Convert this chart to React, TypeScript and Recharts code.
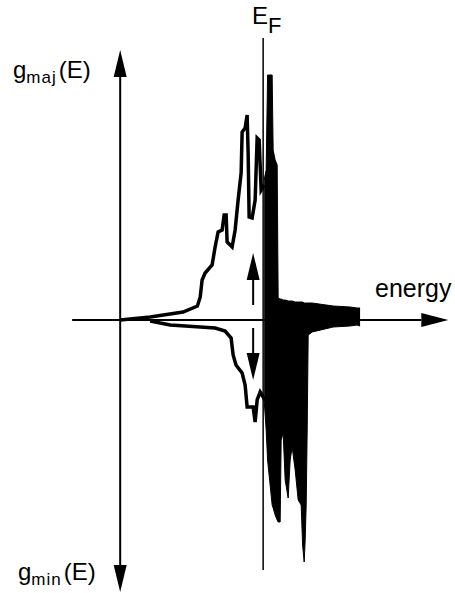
import React from 'react';
import { ComposedChart, Line, Area, XAxis, YAxis, ReferenceLine, Customized } from 'recharts';

// majority-spin density of states (upper curve), energy relative to E_F
const majE = [-10, -7.9, -5.6, -4.6, -4.4, -4.27, -4.06, -3.57, -3.36, -3.15, -2.87, -2.73, -2.59, -2.52, -2.17, -1.96, -1.75, -1.54, -1.47, -1.26, -1.12, -1.05, -0.98, -0.77, -0.56, -0.42, -0.28, -0.14, 0.07];
const majG = [0, 0.3, 0.8, 1.4, 2.3, 4.0, 4.7, 5.5, 7.3, 8.8, 9.0, 10.5, 10.5, 7.8, 7.3, 9.0, 12, 14.7, 18.8, 19.2, 20.5, 16.7, 10.3, 10.2, 12, 18.2, 18, 13, 13.5];

// minority-spin density of states (lower curve, drawn negative)
const minE = [-7.9, -6.5, -4.4, -3.36, -2.66, -2.24, -2.1, -1.9, -1.47, -1.26, -1.12, -0.7, -0.56, -0.42, -0.21, 0, 0.14];
const minG = [-0.1, -0.5, -0.7, -0.8, -1.1, -1.8, -3.5, -4.5, -5.3, -6.5, -8.7, -8.7, -10.2, -8, -7.2, -7.7, -8];

// filled region above E_F
const fillE = [0.07, 0.21, 0.31, 0.63, 0.70, 0.84, 0.98, 1.05, 1.19, 1.26, 1.40, 1.54, 1.75, 1.89, 2.03, 2.24, 2.45, 2.66, 2.76, 2.87, 2.94, 3.01, 3.08, 3.15, 3.43, 4.90, 6.08, 6.57, 6.78];
const fillHi = [14, 15, 24.5, 24.5, 17, 16, 15.5, 2.2, 2.1, 2.1, 2.0, 2.0, 1.9, 1.9, 1.9, 1.8, 1.8, 1.8, 1.8, 1.7, 1.7, 1.7, 1.7, 1.7, 1.7, 1.4, 1.3, 1.2, 1.2];
const fillLo = [-8, -11, -14, -18.5, -18.8, -19.5, -20, -20.2, -20.2, -12, -11.3, -16, -17.8, -14, -12.7, -15, -18, -18.5, -22.5, -24.2, -22, -18.5, -11, -1.5, -1.2, -0.7, -0.6, -0.5, -0.6];

const majData = majE.map((e, i) => ({ e, g: majG[i] }));
const minData = minE.map((e, i) => ({ e, g: minG[i] }));
const fillData = fillE.map((e, i) => ({ e, range: [fillLo[i], fillHi[i]] }));

const FONT = '"Liberation Sans", Arial, Helvetica, sans-serif';

// line with a filled arrow head at its second point
const arrow = (len: number, half: number, width: number) => (p: any) => {
  const { x1, y1, x2, y2 } = p;
  const dx = x2 - x1;
  const dy = y2 - y1;
  const L = Math.hypot(dx, dy) || 1;
  const ux = dx / L;
  const uy = dy / L;
  const bx = x2 - ux * len;
  const by = y2 - uy * len;
  const nx = -uy * half;
  const ny = ux * half;
  return (
    <g>
      <line x1={x1} y1={y1} x2={bx} y2={by} stroke="#000" strokeWidth={width} />
      <polygon points={`${x2},${y2} ${bx + nx},${by + ny} ${bx - nx},${by - ny}`} fill="#000" />
    </g>
  );
};

const Labels = () => (
  <g fontFamily={FONT} fill="#000">
    <text x={13} y={78} fontSize={24}>
      g<tspan fontSize={17} dy={5} letterSpacing={1}>maj</tspan>
      <tspan fontSize={24} dy={-5} dx={2}>(E)</tspan>
    </text>
    <text x={18} y={580} fontSize={24}>
      g<tspan fontSize={17} dy={5} letterSpacing={1}>min</tspan>
      <tspan fontSize={24} dy={-5} dx={2}>(E)</tspan>
    </text>
    <text x={252} y={24} fontSize={24}>
      E<tspan fontSize={22} dy={9}>F</tspan>
    </text>
    <text x={375} y={297} fontSize={25}>energy</text>
  </g>
);

export default function App() {
  return (
    <div style={{ position: 'absolute', left: 0, top: 0, width: 455, height: 593, background: '#fff' }}>
      <ComposedChart width={455} height={593} margin={{ top: 20, right: 6, bottom: 3, left: 63 }}>
        <XAxis type="number" dataKey="e" domain={[-14, 13]} hide allowDataOverflow />
        <YAxis type="number" domain={[-27, 30]} hide allowDataOverflow />

        {/* axes */}
        <ReferenceLine segment={[{ x: -13.36, y: 0 }, { x: 12.95, y: 0 }]} ifOverflow="visible" shape={arrow(27, 7, 2)} />
        <ReferenceLine segment={[{ x: -10, y: 0 }, { x: -10, y: 27 }]} ifOverflow="visible" shape={arrow(27, 6.5, 2)} />
        <ReferenceLine segment={[{ x: -10, y: 0 }, { x: -10, y: -27.2 }]} ifOverflow="visible" shape={arrow(27, 6.5, 2)} />

        <Area data={fillData} dataKey="range" type="linear" fill="#000" fillOpacity={1} stroke="#000" strokeWidth={1} isAnimationActive={false} />
        <Line data={majData} dataKey="g" type="linear" stroke="#000" strokeWidth={3.5} dot={false} isAnimationActive={false} />
        <Line data={minData} dataKey="g" type="linear" stroke="#000" strokeWidth={3.5} dot={false} isAnimationActive={false} />

        {/* Fermi level */}
        <ReferenceLine segment={[{ x: 0, y: 28.2 }, { x: 0, y: -25 }]} ifOverflow="visible" stroke="#000" strokeWidth={1.5} />

        {/* spin arrows */}
        <ReferenceLine segment={[{ x: -0.7, y: 1.5 }, { x: -0.7, y: 6.7 }]} ifOverflow="visible" shape={arrow(27, 6.5, 2)} />
        <ReferenceLine segment={[{ x: -0.7, y: -0.8 }, { x: -0.7, y: -6.0 }]} ifOverflow="visible" shape={arrow(27, 6.5, 2)} />

        <Customized component={Labels} />
      </ComposedChart>
    </div>
  );
}
